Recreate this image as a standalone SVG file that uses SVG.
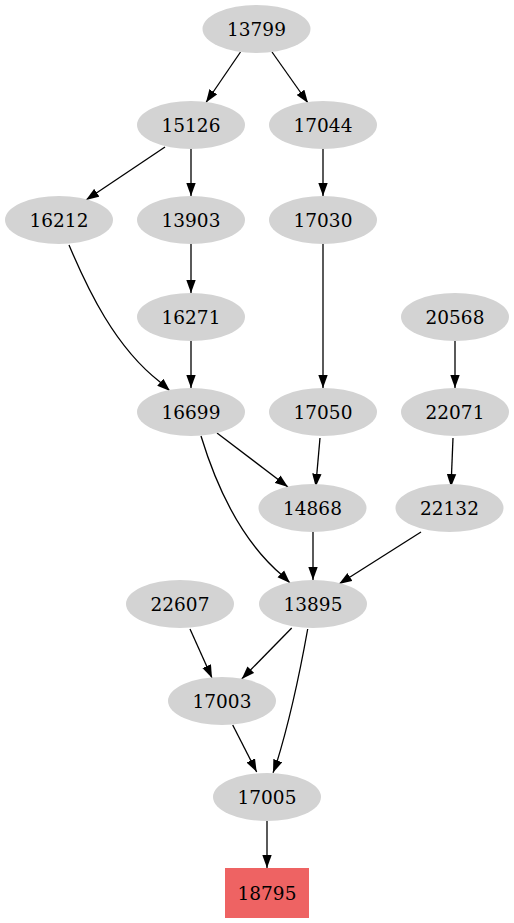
<svg xmlns="http://www.w3.org/2000/svg" width="514" height="923" viewBox="0 0 514 923">
<defs>
<style>
.n ellipse{fill:#d3d3d3;stroke:none}
.n rect{fill:#ee6363;stroke:none}
.n text{font-family:"DejaVu Serif","Liberation Serif",serif;font-size:18.5px;fill:#000;text-anchor:middle;dominant-baseline:central}
.e path{fill:none;stroke:#000;stroke-width:1.3;marker-end:url(#ah)}
</style>
<marker id="ah" markerUnits="userSpaceOnUse" viewBox="0 0 13 10" refX="13" refY="5" markerWidth="13" markerHeight="10" orient="auto">
<path d="M0,0.3 L13,5 L0,9.7 z" fill="#000"/>
</marker>
</defs>
<rect width="514" height="923" fill="#fff"/>
<g id="edges" class="e">
<path d="M240.5,52 L206,102.5"/>
<path d="M272,52 L308,103"/>
<path d="M165,147 L86,200"/>
<path d="M191,149 L191,196"/>
<path d="M323,149 L323,196"/>
<path d="M191,244 L191,293"/>
<path d="M69,245 C88,290 115,347 160,382 L170,391"/>
<path d="M191,341 L191,388"/>
<path d="M323,244 L323,388"/>
<path d="M455,341 L455,388"/>
<path d="M217,433 L288,487"/>
<path d="M320,438 L315.7,486.7"/>
<path d="M453,438 L451,487"/>
<path d="M201,436 C215,482 240,540 283,576 L290,583"/>
<path d="M313,532 L313,580"/>
<path d="M421,532 L339,584"/>
<path d="M190,629 L212,678"/>
<path d="M291.7,628 L241.7,679"/>
<path d="M307.7,629 C300,672 290,720 276,765 L273,772.7"/>
<path d="M232.7,725 L256.7,772"/>
<path d="M267,821 L267,868"/>
</g>
<g id="n13799" class="n"><ellipse cx="256.5" cy="29" rx="54" ry="24"/><text x="256.5" y="29">13799</text></g>
<g id="n15126" class="n"><ellipse cx="191" cy="125" rx="54" ry="24"/><text x="191" y="125">15126</text></g>
<g id="n17044" class="n"><ellipse cx="323" cy="125" rx="54" ry="24"/><text x="323" y="125">17044</text></g>
<g id="n16212" class="n"><ellipse cx="59" cy="220" rx="54" ry="24"/><text x="59" y="220">16212</text></g>
<g id="n13903" class="n"><ellipse cx="191" cy="220" rx="54" ry="24"/><text x="191" y="220">13903</text></g>
<g id="n17030" class="n"><ellipse cx="323" cy="220" rx="54" ry="24"/><text x="323" y="220">17030</text></g>
<g id="n16271" class="n"><ellipse cx="191" cy="317" rx="54" ry="24"/><text x="191" y="317">16271</text></g>
<g id="n20568" class="n"><ellipse cx="455" cy="317" rx="54" ry="24"/><text x="455" y="317">20568</text></g>
<g id="n16699" class="n"><ellipse cx="191" cy="412" rx="54" ry="24"/><text x="191" y="412">16699</text></g>
<g id="n17050" class="n"><ellipse cx="323" cy="412" rx="54" ry="24"/><text x="323" y="412">17050</text></g>
<g id="n22071" class="n"><ellipse cx="455" cy="412" rx="54" ry="24"/><text x="455" y="412">22071</text></g>
<g id="n14868" class="n"><ellipse cx="312.5" cy="508" rx="54" ry="24"/><text x="312.5" y="508">14868</text></g>
<g id="n22132" class="n"><ellipse cx="449.5" cy="508" rx="54" ry="24"/><text x="449.5" y="508">22132</text></g>
<g id="n22607" class="n"><ellipse cx="180" cy="604" rx="54" ry="24"/><text x="180" y="604">22607</text></g>
<g id="n13895" class="n"><ellipse cx="313" cy="604" rx="54" ry="24"/><text x="313" y="604">13895</text></g>
<g id="n17003" class="n"><ellipse cx="222" cy="701" rx="54" ry="24"/><text x="222" y="701">17003</text></g>
<g id="n17005" class="n"><ellipse cx="267" cy="797" rx="54" ry="24"/><text x="267" y="797">17005</text></g>
<g id="n18795" class="n"><rect x="225" y="868" width="84" height="50"/><text x="267" y="893">18795</text></g>
</svg>
